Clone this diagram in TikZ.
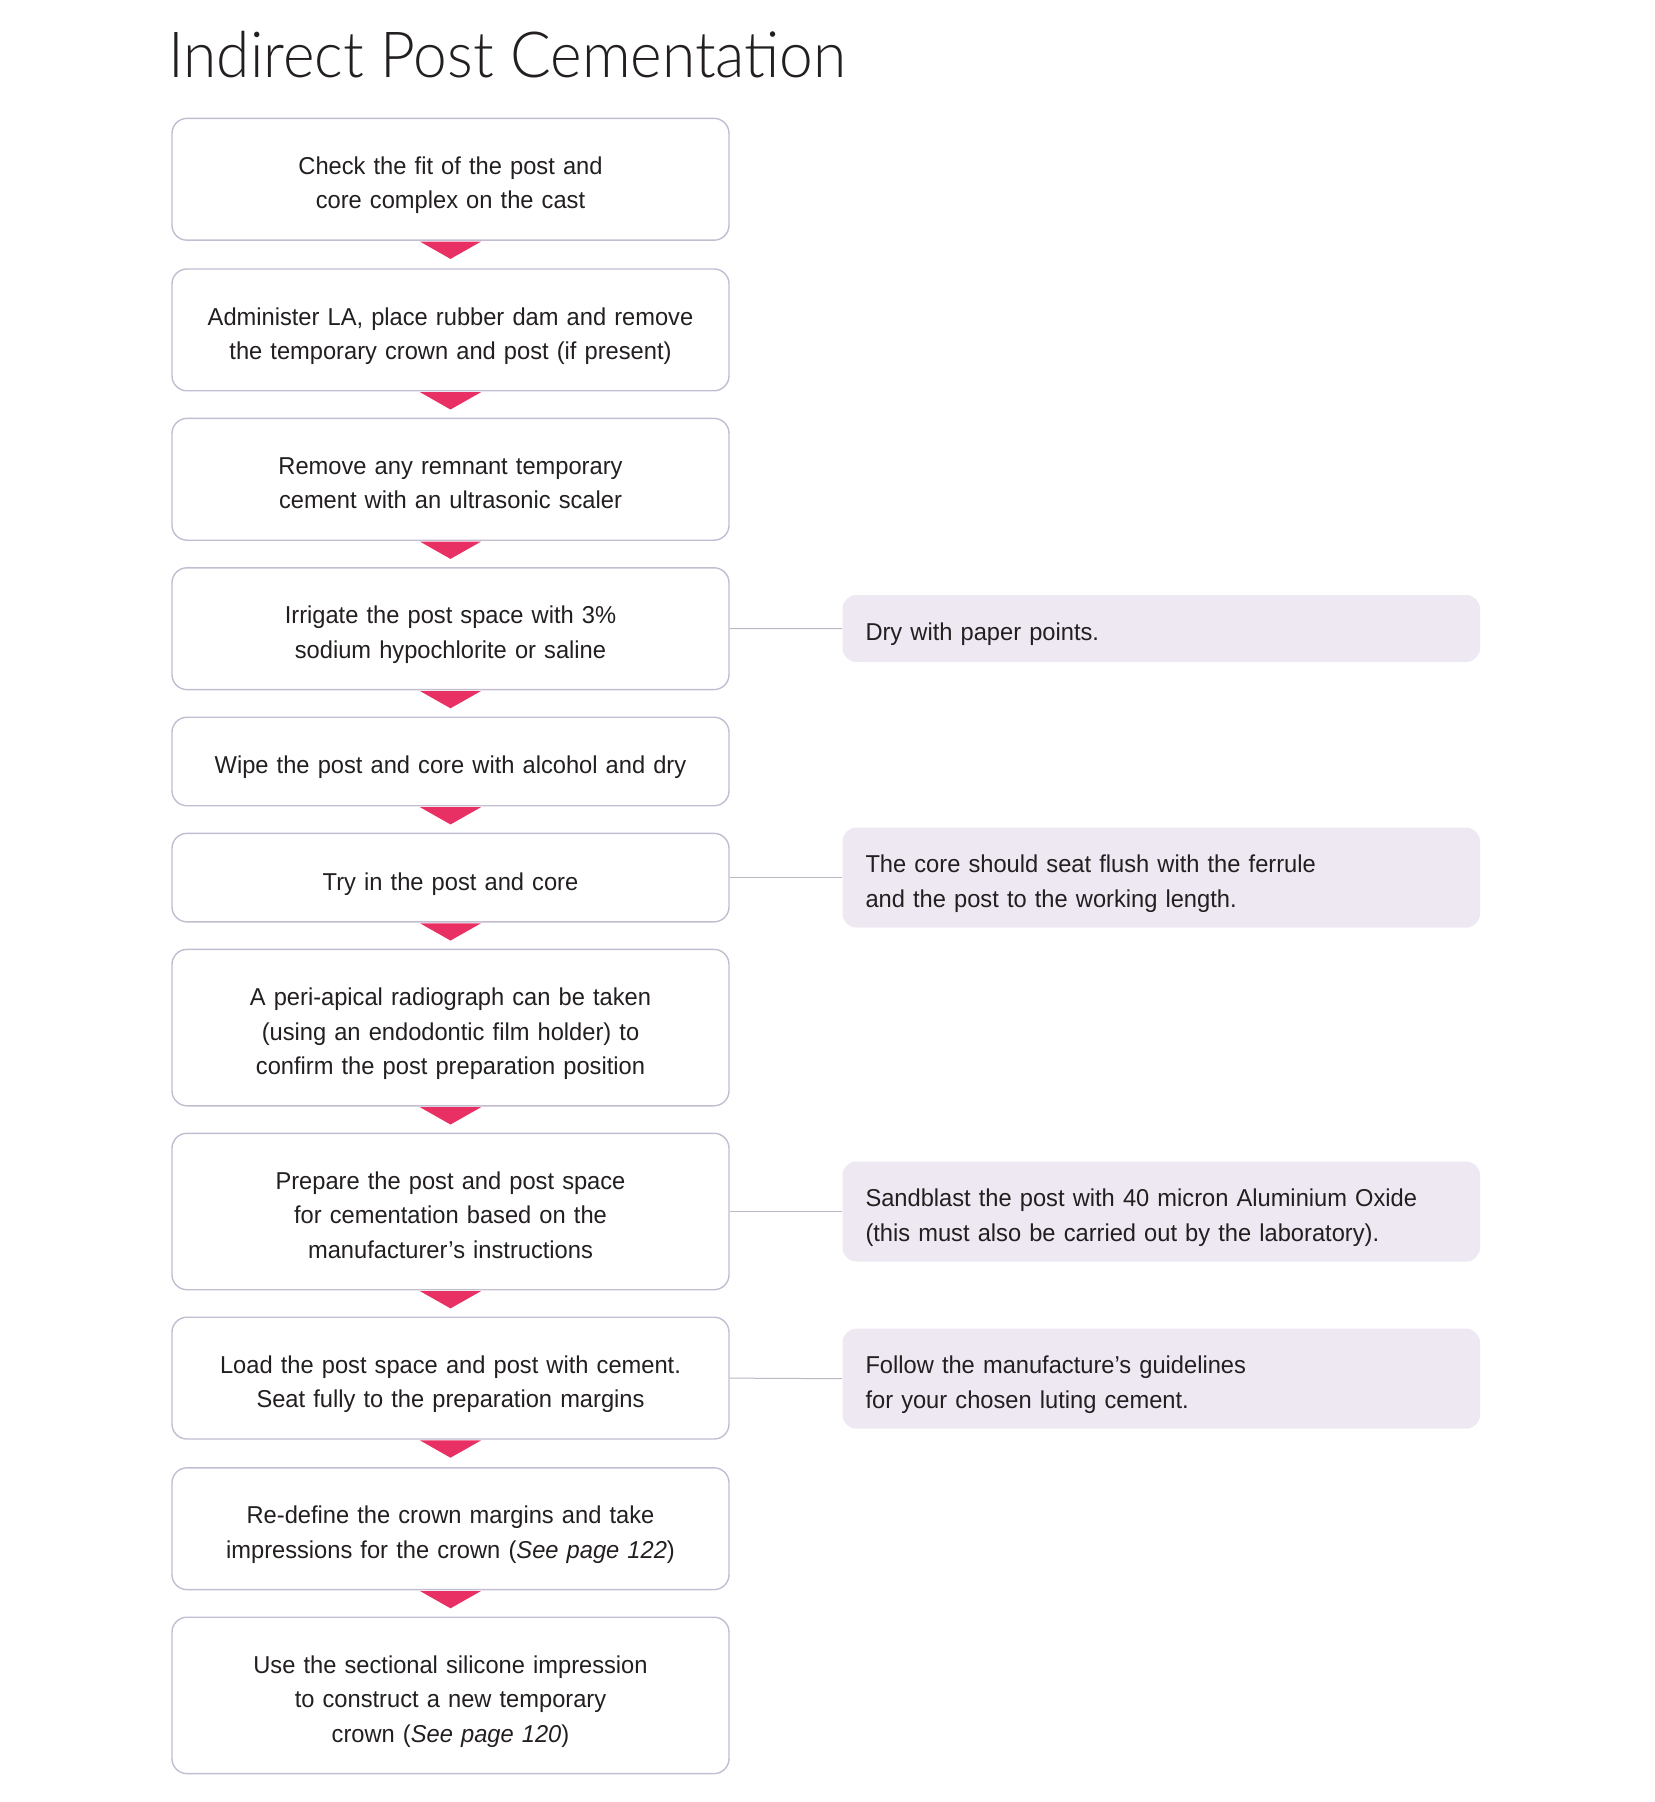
\documentclass[tikz,border=0pt]{standalone}
\usepackage{fontspec}
\setmainfont{Liberation Sans}[FakeStretch=0.97]
\newfontfamily\titlefont{Lato Light}[FakeStretch=0.95]
\definecolor{boxline}{RGB}{196,188,208}
\definecolor{notefill}{RGB}{237,232,242}
\definecolor{arrowpink}{RGB}{232,48,100}
\definecolor{connline}{RGB}{188,184,196}
\definecolor{txt}{RGB}{35,31,32}
\tikzset{
  padtext/.style={execute at begin node={\rule{0pt}{15pt}},
    execute at end node={\rule[-2.6pt]{0pt}{2.6pt}}},
  stepbox/.style={draw=boxline, line width=0.7pt, rounded corners=7.5pt, fill=white,
    minimum width=278.5pt, text width=270pt, align=center, inner sep=0pt,
    font=\fontsize{12.2}{17.25}\selectfont, text=txt, padtext},
  notebox/.style={fill=notefill, rounded corners=7pt, minimum width=318.75pt,
    text width=295.75pt, align=left, inner xsep=11.5pt, inner ysep=0pt,
    font=\fontsize{12.2}{17.25}\selectfont, text=txt, padtext},
  conn/.style={draw=connline, line width=0.5pt},
  tri/.style={fill=arrowpink}
}
\begin{document}
\begin{tikzpicture}[x=0.5pt,y=-0.5pt]
\useasboundingbox[fill=white] (0,0) rectangle (1654,1802);
\node[anchor=base west, inner sep=0pt, text=txt, font=\titlefont\fontsize{31.8}{38}\selectfont] (title) at (168,78) {Indirect Post Cementation};

\node[stepbox, minimum height=60.9pt] (b1) at (450.5,179.3) {Check the fit of the post and\\core complex on the cast};
\node[stepbox, minimum height=60.9pt] (b2) at (450.5,329.9) {Administer LA, place rubber dam and remove\\the temporary crown and post (if present)};
\node[stepbox, minimum height=60.9pt] (b3) at (450.5,479.3) {Remove any remnant temporary\\cement with an ultrasonic scaler};
\node[stepbox, minimum height=60.9pt] (b4) at (450.5,628.7) {Irrigate the post space with 3\%\\sodium hypochlorite or saline};
\node[stepbox, minimum height=44.25pt] (b5) at (450.5,761.5) {Wipe the post and core with alcohol and dry};
\node[stepbox, minimum height=44.25pt] (b6) at (450.5,877.6) {Try in the post and core};
\node[stepbox, minimum height=78.2pt] (b7) at (450.5,1027.6) {A peri-apical radiograph can be taken\\(using an endodontic film holder) to\\confirm the post preparation position};
\node[stepbox, minimum height=78.2pt] (b8) at (450.5,1211.5) {Prepare the post and post space\\for cementation based on the\\manufacturer’s instructions};
\node[stepbox, minimum height=60.9pt] (b9) at (450.5,1378.1) {Load the post space and post with cement.\\Seat fully to the preparation margins};
\node[stepbox, minimum height=60.9pt] (b10) at (450.5,1528.7) {Re-define the crown margins and take\\impressions for the crown (\textit{See page 122})};
\node[stepbox, minimum height=78.2pt] (b11) at (450.5,1695.4) {Use the sectional silicone impression\\to construct a new temporary\\crown (\textit{See page 120})};

\node[notebox, minimum height=33.5pt] (n1) at (1161.25,628.5) {Dry with paper points.};
\node[notebox, minimum height=50pt] (n2) at (1161.25,877.6) {The core should seat flush with the ferrule\\and the post to the working length.};
\node[notebox, minimum height=50pt] (n3) at (1161.25,1211.5) {Sandblast the post with 40 micron Aluminium Oxide\\(this must also be carried out by the laboratory).};
\node[notebox, minimum height=50pt] (n4) at (1161.25,1378.7) {Follow the manufacture’s guidelines\\for your chosen luting cement.};

\draw[conn] (b4.east) -- (n1.west);
\draw[conn] (b6.east) -- (n2.west);
\draw[conn] (b8.east) -- (n3.west);
\draw[conn] (b9.east) -- (n4.west);

\foreach \a in {b1,b2,b3,b4,b5,b6,b7,b8,b9,b10}{
  \fill[tri] ([xshift=-15.25pt,yshift=-0.35pt]\a.south) -- ([xshift=15.25pt,yshift=-0.35pt]\a.south) -- ([yshift=-9pt]\a.south) -- cycle;
}
\end{tikzpicture}
\end{document}
